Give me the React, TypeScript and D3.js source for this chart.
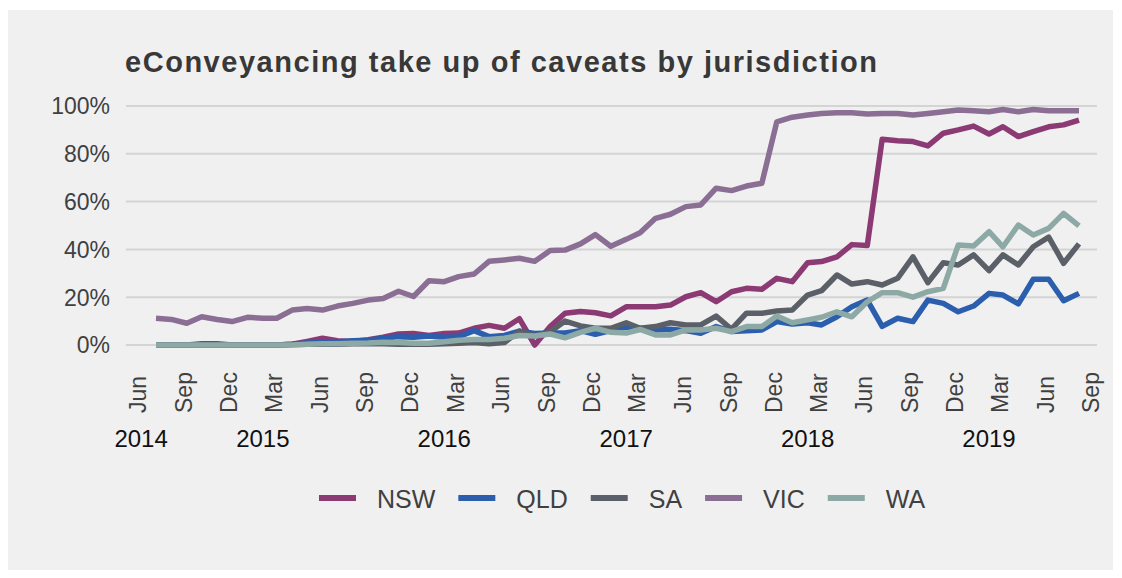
import React from "react";
import * as d3 from "d3";

// Series (percent), monthly Jul 2014 .. Aug 2019
const seriesNames = ["NSW", "QLD", "SA", "VIC", "WA"];
const seriesColors = ["#8b3a74", "#2b5eac", "#5b6068", "#8b6e93", "#8da9a6"];

const NSW = [0, 0, 0, 0.5, 0.5, 0, 0, 0, 0, 0.3, 1.5, 2.8, 1.8, 1.5, 2.2, 3.3,
  4.6, 4.8, 4.0, 4.8, 5.0, 7.0, 8.2, 7.0, 11.0, 0, 7.7, 13.3, 14.0, 13.5, 12.2, 16.0,
  16.0, 16.0, 16.7, 20.2, 21.9, 18.1, 22.3, 23.7, 23.3, 27.9, 26.5, 34.4, 34.9, 36.9, 42.0, 41.6,
  86.1, 85.5, 85.1, 83.3, 88.6, 90.0, 91.6, 88.3, 91.3, 87.2, 89.3, 91.3, 92.1, 94.1];
const QLD = [0, 0, 0, 0, 0, 0, 0, 0, 0, 0.3, 0.8, 1.0, 1.3, 1.8, 2.0, 2.8,
  3.5, 3.2, 3.8, 3.2, 3.5, 6.0, 3.5, 4.0, 5.8, 4.8, 5.0, 5.0, 6.0, 4.5, 6.0, 7.5,
  7.0, 6.3, 6.6, 6.0, 4.9, 7.7, 5.6, 6.0, 6.3, 9.8, 8.8, 9.3, 8.4, 11.8, 16.0, 18.8,
  7.8, 11.2, 9.8, 18.8, 17.4, 13.9, 16.3, 21.6, 20.9, 17.2, 27.5, 27.5, 18.5, 21.6];
const SA = [0, 0, 0, 0, 0, 0, 0, 0, 0, 0.2, 0.3, 0.3, 0.3, 0.5, 0.5, 0.5,
  0.3, 0.3, 0.3, 0.5, 0.7, 1.0, 0.5, 1.0, 5.8, 3.8, 5.5, 10.0, 8.0, 7.0, 7.0, 9.3,
  7.0, 7.7, 9.3, 8.4, 8.4, 12.1, 6.6, 13.3, 13.3, 14.2, 14.6, 20.9, 22.7, 29.3, 25.5, 26.5,
  25.1, 27.9, 36.9, 26.1, 34.4, 33.5, 37.7, 31.1, 37.7, 33.5, 41.1, 45.1, 34.2, 42.3];
const VIC = [11.2, 10.7, 9.1, 11.8, 10.7, 9.8, 11.6, 11.2, 11.2, 14.6, 15.3, 14.6, 16.3, 17.4, 18.8, 19.5,
  22.5, 20.3, 26.9, 26.5, 28.6, 29.7, 35.0, 35.6, 36.3, 35.0, 39.5, 39.7, 42.3, 46.2, 41.3, 44.2,
  47.0, 53.0, 54.7, 57.9, 58.6, 65.6, 64.6, 66.5, 67.7, 93.4, 95.3, 96.2, 96.9, 97.2, 97.2, 96.7,
  96.9, 96.9, 96.2, 96.9, 97.6, 98.3, 98.0, 97.6, 98.5, 97.6, 98.5, 98.0, 98.0, 98.0];
const WA = [0, 0, 0, 0, 0, 0, 0, 0, 0, 0, 0.3, 0.5, 0.5, 0.7, 0.8, 1.2,
  1.0, 0.7, 0.7, 1.4, 2.0, 2.3, 2.3, 2.8, 4.0, 3.8, 4.6, 3.0, 5.3, 7.0, 5.3, 5.0,
  6.5, 4.2, 4.2, 6.3, 6.3, 7.0, 5.6, 7.7, 7.7, 12.1, 9.3, 10.5, 11.6, 13.9, 11.8, 18.1,
  21.9, 21.9, 20.0, 22.3, 23.7, 41.8, 41.4, 47.4, 41.1, 50.2, 46.0, 48.8, 55.1, 49.8];
const seriesValues = [NSW, QLD, SA, VIC, WA];

const firstMonth = new Date(2014, 6, 1);
const lastMonth = new Date(2019, 7, 1);
const months = d3.timeMonth.range(firstMonth, d3.timeMonth.offset(lastMonth, 1));

const tickStart = new Date(2014, 5, 1);
const tickStop = new Date(2019, 9, 1);
const monthTicks = d3.timeMonth.range(tickStart, tickStop, 3);

const yearLabels = ["2014", "2015", "2016", "2017", "2018", "2019"];
const yearLabelDates = [new Date(2014, 5, 1), new Date(2015, 1, 1), new Date(2016, 1, 1),
  new Date(2017, 1, 1), new Date(2018, 1, 1), new Date(2019, 1, 1)];

const yTicks = [0, 20, 40, 60, 80, 100];
const title = "eConveyancing take up of caveats by jurisdiction";

const FONT = "'Liberation Sans', Arial, sans-serif";

function measure(text: string, font: string): number {
  const c = document.createElement("canvas");
  const ctx = c.getContext("2d");
  if (!ctx) return text.length * 14;
  ctx.font = font;
  return ctx.measureText(text).width;
}

export default function App() {
  const W = 1122, H = 578;
  const plotLeft = 126, plotRight = 1097;
  const x = d3.scaleTime().domain([firstMonth, lastMonth]).range([156, 1079]);
  const y = d3.scaleLinear().domain([0, 100]).range([345, 106]);
  const fmt = d3.timeFormat("%b");

  const line = d3.line<number>()
    .x((_, i) => x(months[i]))
    .y((d) => y(d));

  // legend layout
  const legendFontSize = 25;
  const swatchLen = 37;
  let cursor = 319;
  const legendItems = seriesNames.map((name, k) => {
    const w = measure(name, `${legendFontSize}px 'Liberation Sans'`);
    const item = { name, color: seriesColors[k], x: cursor, tx: cursor + swatchLen + 21 };
    cursor = item.tx + w + 23;
    return item;
  });
  const legendY = 498;

  const textColor = "#404040";

  return (
    <svg width={W} height={H} style={{ position: "absolute", left: 0, top: 0, display: "block" }}
      fontFamily={FONT}>
      <rect x={0} y={0} width={W} height={H} fill="#ffffff" />
      <rect x={8} y={10} width={1105} height={560} fill="#f0f0f0" />

      <text x={125} y={72} fontSize={29} fontWeight="bold" fill="#383838"
        textLength={752} lengthAdjust="spacing">{title}</text>

      {yTicks.map((t) => (
        <g key={t}>
          <line x1={plotLeft} x2={plotRight} y1={y(t)} y2={y(t)} stroke="#d4d4d4" strokeWidth={2} />
          <text x={110} y={y(t)} dy={8.3} textAnchor="end" fontSize={23} fill={textColor}>{t}%</text>
        </g>
      ))}

      {monthTicks.map((d, i) => (
        <text key={i} transform={`translate(${x(d)},413) rotate(-90)`} dy={5}
          textAnchor="start" fontSize={23} fill={textColor}>{fmt(d)}</text>
      ))}

      {yearLabels.map((lab, i) => (
        <text key={lab} x={x(yearLabelDates[i])} y={447} textAnchor="middle" fontSize={24}
          fill="#111111">{lab}</text>
      ))}

      {seriesValues.map((vals, k) => (
        <path key={seriesNames[k]} d={line(vals) || ""} fill="none" stroke={seriesColors[k]}
          strokeWidth={5.5} strokeLinejoin="round" strokeLinecap="butt" />
      ))}

      {legendItems.map((it) => (
        <g key={it.name}>
          <line x1={it.x} x2={it.x + swatchLen} y1={legendY} y2={legendY} stroke={it.color} strokeWidth={6} />
          <text x={it.tx} y={legendY} dy={9.5} fontSize={legendFontSize} fill={textColor}>{it.name}</text>
        </g>
      ))}
    </svg>
  );
}
